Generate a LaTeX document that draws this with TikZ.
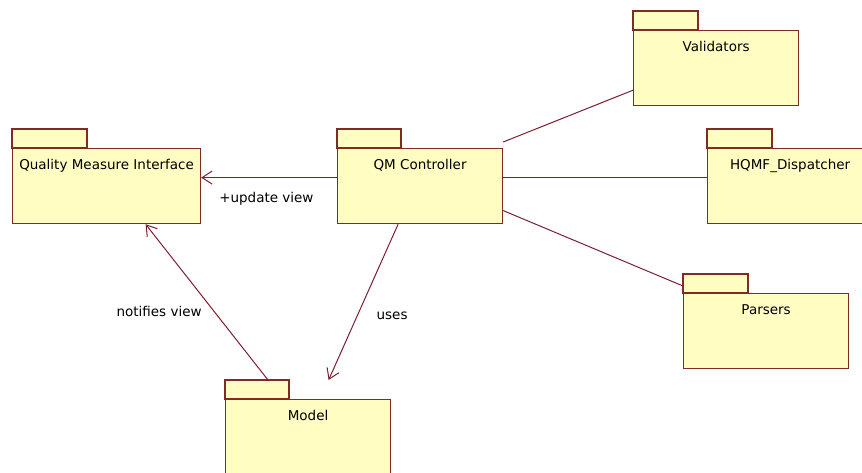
\documentclass[tikz,border=0pt]{standalone}
\usepackage{fontspec}
\setmainfont{DejaVu Sans}
\usepackage{tikz}
\usetikzlibrary{calc}
\usetikzlibrary{arrows.meta,shapes,positioning}
\definecolor{pkgfill}{RGB}{255,253,194}
\definecolor{pkgline}{RGB}{128,44,36}
\definecolor{linkline}{RGB}{124,30,44}
\tikzset{>={Straight Barb[length=10pt,width=13pt]}}
\tikzset{
  pkg/.style={draw=pkgline, fill=pkgfill, line width=1.2pt, rectangle, anchor=north west,
    minimum width=165pt, inner xsep=0pt, inner ysep=5.5pt,
    text height=15.5pt, text depth=48.5pt, font=\fontsize{13.5}{16}\selectfont},
  pkgtab/.style={draw=pkgline, fill=pkgfill, line width=1.2pt},
  link/.style={draw=linkline, line width=1pt},
  linklabel/.style={font=\fontsize{13.5}{16}\selectfont, inner sep=0pt}
}

\begin{document}
\begin{tikzpicture}[x=1pt,y=-1pt]
          \clip (0,0) rectangle (862,473);
          \node[pkg, minimum width=188pt] (qmi) at (12,148) {Quality Measure Interface};
          \node[pkg] (qmc) at (337,148) {QM Controller};
          \node[pkg] (val) at (633,30) {Validators};
          \node[pkg] (hqmf) at (707,148) {HQMF\_Dispatcher};
          \node[pkg] (pars) at (683,293) {Parsers};
          \node[pkg] (model) at (225,399) {Model};
          \foreach \n/\w in {qmi/75,qmc/64,val/65,hqmf/65,pars/65,model/64}
            \draw[pkgtab] (\n.north west) rectangle ++(\w,-19);
          \draw[link,->] ([yshift=8.5pt]qmc.west) -- ([yshift=8.5pt]qmi.east)
            node[linklabel, pos=0.52, yshift=-21pt] (upd) {+update view};
          \draw[link,->] ([xshift=43pt,yshift=19pt]model.north west) -- ([xshift=39pt]qmi.south)
            node[linklabel, pos=0.44, anchor=east, xshift=-12pt] (notif) {notifies view};
          \draw[link,->] ([xshift=-22pt]qmc.south) -- ([xshift=20.5pt,yshift=19pt]model.north)
            node[linklabel, pos=0.59, xshift=35pt] (uses) {uses};
          \draw[link] ([yshift=6pt]qmc.north east) -- ([yshift=16pt]val.south west);
          \draw[link] ([yshift=8.5pt]qmc.east) -- ([yshift=8.5pt]hqmf.west);
          \draw[link] ([yshift=-24.5pt]qmc.east) -- ([yshift=7pt]pars.north west);
        \end{tikzpicture}
\end{document}
